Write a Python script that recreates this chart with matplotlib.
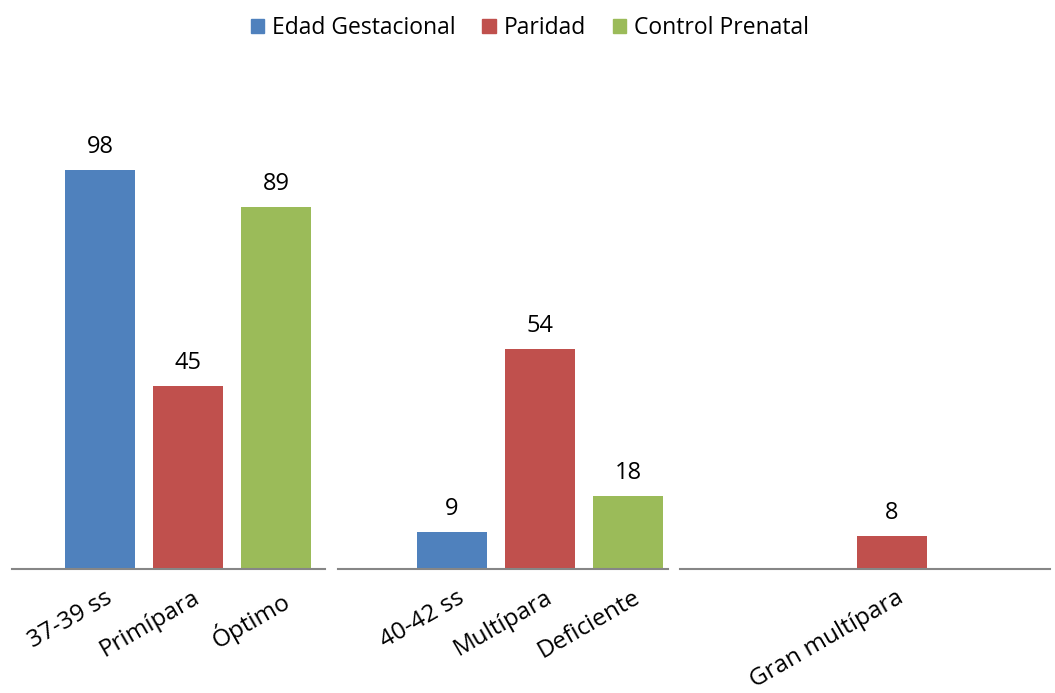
import matplotlib
matplotlib.use("Agg")
import matplotlib.pyplot as plt
from matplotlib.patches import Patch

series = ["Edad Gestacional", "Paridad", "Control Prenatal"]
colors = ["#4F81BD", "#C0504D", "#9BBB59"]
# one group per category level
edad = [98, 9, None]
paridad = [45, 54, 8]
control = [89, 18, None]
tick_labels = ["37-39 ss", "Primípara", "Óptimo",
               "40-42 ss", "Multípara", "Deficiente",
               "Gran multípara"]

plt.rcParams['font.family'] = ['Open Sans', 'DejaVu Sans']

W, H = 1055, 693
fig = plt.figure(figsize=(W/100, H/100), dpi=100)
px0, px1 = 12, 1050
ybase, ytop = 569, 60
ax = fig.add_axes([px0/W, 1 - ybase/H, (px1-px0)/W, (ybase-ytop)/H])
slot = 88.0
ax.set_xlim((px0-100)/slot, (px1-100)/slot)
ax.set_ylim(0, (ybase-ytop)/4.07)

label_pos = []
for g in range(3):
    vals = [edad[g], paridad[g], control[g]]
    for s, v in enumerate(vals):
        if v is None:
            continue
        x = g*4 + s
        ax.bar(x, v, width=0.8, color=colors[s], zorder=2)
        ax.annotate(str(v), (x, v), xytext=(0, 8), textcoords='offset points',
                    ha='center', va='bottom', fontsize=17, color='black')
        label_pos.append(x)

for x, lab in zip(label_pos, tick_labels):
    ax.annotate(lab, (x, 0), xytext=(3, -12), textcoords='offset points',
                ha='right', va='top', rotation=30, rotation_mode='anchor',
                fontsize=17.5, color='black')

# broken baseline segments
segs = [((12-100)/slot, (325-100)/slot), ((338-100)/slot, (668-100)/slot),
        ((680-100)/slot, (1050-100)/slot)]
for a, b in segs:
    ax.plot([a, b], [0, 0], color='#868686', lw=1.5, zorder=3, clip_on=False)

for sp in ax.spines.values():
    sp.set_visible(False)
ax.set_xticks([])
ax.set_yticks([])

handles = [Patch(color=c, label=l) for c, l in zip(colors, series)]
fig.legend(handles=handles, loc='center', bbox_to_anchor=(530/W, 1 - 28/H),
           ncol=3, frameon=False, fontsize=16.5, handlelength=0.6, handleheight=0.6,
           handletextpad=0.35, columnspacing=1.15)

fig.savefig("out.png", dpi=100)
